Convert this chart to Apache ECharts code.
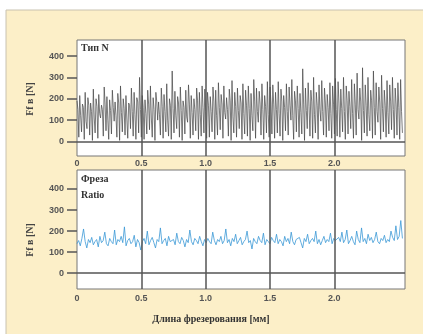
<!DOCTYPE html>
<html>
<head>
<meta charset="utf-8">
<script src="https://cdn.jsdelivr.net/npm/echarts@6/dist/echarts.min.js"></script>
<style>
  html, body { margin: 0; padding: 0; background: #fff; }
  #chart { width: 423px; height: 334px; }
</style>
</head>
<body>
<div id="chart"></div>
<script>
// Тип N — сила резания: по каждому зубу пик, спад, впадина
const forceTypeN = [
  190,150,20, 215,120,45, 175,160,10, 230,95,60, 205,170,30, 180,140,5, 245,110,40, 200,165,15,
  220,130,110, 170,150,25, 255,175,50, 210,100,10, 195,145,35, 240,160,95, 185,120,20, 225,180,5,
  260,135,45, 200,155,30, 215,105,15, 180,170,60, 250,140,25, 230,125,10, 205,185,40, 300,150,20,
  215,160,10, 195,130,35, 240,175,55, 260,110,20, 205,150,5, 230,185,100, 185,125,30, 250,165,15,
  220,140,45, 270,100,25, 200,170,10, 330,155,40, 235,120,60, 210,180,20, 255,145,5, 190,160,35,
  240,115,90, 265,175,15, 215,135,30, 200,150,50, 250,190,10, 230,125,25, 260,160,40, 245,140,15,
  230,170,20, 210,140,45, 255,185,10, 240,120,30, 275,160,55, 220,175,15, 260,135,105, 205,150,25,
  245,190,5, 285,115,40, 230,165,20, 250,145,60, 215,180,10, 270,130,35, 240,170,25, 260,155,5,
  225,120,50, 290,185,15, 250,140,90, 235,175,30, 270,150,10, 215,165,40, 280,125,20, 255,180,35,
  265,175,15, 230,150,40, 280,130,25, 245,185,5, 215,160,50, 270,140,30, 255,170,100, 290,120,10,
  235,190,45, 260,155,20, 225,135,35, 340,175,5, 250,145,60, 275,165,25, 240,185,15, 300,125,40,
  230,170,10, 265,150,95, 285,140,30, 250,180,20, 220,160,50, 275,130,15, 260,175,35, 295,150,25,
  280,180,20, 245,155,45, 300,140,10, 260,190,35, 235,165,60, 290,130,15, 270,175,30, 320,150,105,
  250,185,5, 345,145,40, 265,170,25, 300,125,50, 240,190,15, 330,160,30, 275,140,90, 255,180,10,
  310,155,45, 240,170,20, 285,135,35, 265,185,55, 300,150,15, 250,175,30, 275,160,10, 290,140,40
];

// Фреза Ratio
const forceRatio = [
  140, 155, 130, 165, 210, 150, 120, 160, 145, 170, 135, 150, 160, 125, 175, 145, 155, 195, 140, 130,
  165, 150, 140, 205, 135, 160, 150, 175, 145, 220, 130, 155, 165, 140, 150, 180, 125, 160, 145, 110,
  150, 165, 140, 200, 135, 155, 170, 145, 120, 160, 150, 215, 140, 155, 165, 130, 175, 150, 145, 160,
  135, 190, 150, 140, 170, 155, 125, 160, 145, 205, 150, 135, 165, 155, 140, 175, 150, 130, 160, 145,
  165, 150, 140, 195, 155, 135, 160, 150, 175, 140, 155, 210, 145, 160, 130, 165, 150, 185, 140, 155,
  170, 135, 150, 160, 200, 145, 155, 115, 165, 150, 140, 175, 155, 145, 190, 135, 160, 150, 140, 170,
  155, 145, 185, 140, 160, 150, 130, 175, 150, 165, 140, 195, 150, 135, 160, 155, 170, 145, 120, 165,
  150, 185, 140, 155, 165, 150, 200, 140, 160, 135, 155, 175, 145, 160, 150, 190, 140, 165, 155, 150,
  170, 150, 195, 145, 160, 205, 140, 155, 175, 150, 135, 200, 160, 145, 215, 150, 165, 140, 185, 155,
  170, 145, 160, 195, 150, 140, 165, 155, 180, 145, 160, 150, 200, 170, 155, 225, 160, 175, 250, 165
];

const lengthEnd = 2.53;   // мм, последний отсчёт
const xTicks = [0, 0.5, 1.0, 1.5, 2.0];
const gridLinesX = [0.5, 1.0, 1.5, 2.0];
const yTicks = [0, 100, 200, 300, 400];

const toPairs = (arr) => arr.map((v, i) => [i * lengthEnd / (arr.length - 1), v]);

const chart = echarts.init(document.getElementById('chart'));

const tickFont = { color: '#555', fontSize: 9, fontWeight: 'bold', fontFamily: 'Liberation Sans' };
const serif = 'Liberation Serif';

const makeX = (gridIndex, margin) => ({
  type: 'value',
  gridIndex,
  min: 0,
  max: 2.55,
  axisLine: { show: false },
  axisTick: { show: false },
  splitLine: { show: false },
  axisLabel: {
    ...tickFont,
    margin,
    customValues: xTicks,
    formatter: (v) => (v === 0 ? '0' : v.toFixed(1))
  }
});

const makeY = (gridIndex, min, max) => ({
  type: 'value',
  gridIndex,
  min,
  max,
  axisLine: { show: false },
  splitLine: { show: false },
  axisTick: {
    show: true,
    length: 10,
    customValues: yTicks,
    lineStyle: { color: '#555', width: 1.5 }
  },
  axisLabel: { ...tickFont, margin: 13, customValues: yTicks }
});

// вертикальные линии сетки и нулевая линия
const guideLines = {
  silent: true,
  symbol: 'none',
  label: { show: false },
  lineStyle: { color: '#555', width: 1.5, type: 'solid' },
  data: gridLinesX.map((x) => ({ xAxis: x })).concat([{ yAxis: 0 }])
};

const option = {
  backgroundColor: '#fff',
  animation: false,
  graphic: [
    {
      type: 'rect',
      shape: { x: 6, y: 10, width: 430, height: 340 },
      style: { fill: '#fcefc8', stroke: '#c8c2b0', lineWidth: 1 },
      z: -10
    },
    { type: 'text', left: 81, top: 43, style: { text: 'Тип N', font: 'bold 10px ' + serif, fill: '#333' } },
    { type: 'text', left: 81, top: 174, style: { text: 'Фреза', font: 'bold 10px ' + serif, fill: '#333' } },
    { type: 'text', left: 81, top: 190, style: { text: 'Ratio', font: 'bold 10px ' + serif, fill: '#333' } },
    {
      type: 'text', x: 30, y: 99, rotation: Math.PI / 2,
      style: { text: 'Ff в [N]', font: 'bold 10px ' + serif, fill: '#444', align: 'center', verticalAlign: 'middle' }
    },
    {
      type: 'text', x: 30, y: 240, rotation: Math.PI / 2,
      style: { text: 'Ff в [N]', font: 'bold 10px ' + serif, fill: '#444', align: 'center', verticalAlign: 'middle' }
    },
    {
      type: 'text', x: 211, y: 319,
      style: { text: 'Длина фрезерования [мм]', font: 'bold 10px ' + serif, fill: '#333', align: 'center', verticalAlign: 'middle' }
    }
  ],
  grid: [
    { left: 77, width: 328, top: 40, height: 116, show: true, backgroundColor: '#fff', borderColor: '#777', borderWidth: 1 },
    { left: 77, width: 328, top: 170, height: 119, show: true, backgroundColor: '#fff', borderColor: '#777', borderWidth: 1 }
  ],
  xAxis: [makeX(0, 3), makeX(1, 5)],
  yAxis: [makeY(0, -68, 475), makeY(1, -75, 490)],
  series: [
    {
      name: 'Тип N',
      type: 'line',
      xAxisIndex: 0,
      yAxisIndex: 0,
      data: toPairs(forceTypeN),
      showSymbol: false,
      lineStyle: { color: '#444', width: 0.7 },
      markLine: guideLines
    },
    {
      name: 'Фреза Ratio',
      type: 'line',
      xAxisIndex: 1,
      yAxisIndex: 1,
      data: toPairs(forceRatio),
      showSymbol: false,
      lineStyle: { color: '#3a98d6', width: 0.8 },
      markLine: guideLines
    }
  ]
};

chart.setOption(option);
</script>
</body>
</html>
